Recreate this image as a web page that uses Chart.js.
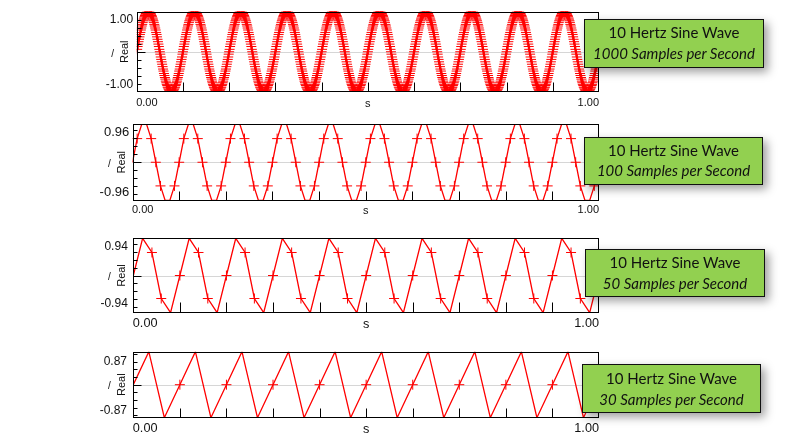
<!DOCTYPE html>
<html><head><meta charset="utf-8">
<script src="https://cdn.jsdelivr.net/npm/chart.js@4.4.1/dist/chart.umd.min.js"></script>
<style>
html,body{margin:0;padding:0;background:#fff;width:793px;height:448px;overflow:hidden;position:relative;}
canvas{position:absolute;left:0;top:0;}
.box{position:absolute;background:#92D050;border:1px solid #111;box-shadow:4px 4px 9px rgba(0,0,0,0.38);font-family:Lato,'Open Sans',sans-serif;font-size:15px;color:#111;text-align:center;line-height:20.5px;box-sizing:border-box;padding-top:2px;z-index:5;}
.box .l2{font-style:italic;}
</style></head><body>
<canvas id="c1" width="793" height="448"></canvas>
<canvas id="c2" width="793" height="448"></canvas>
<canvas id="c3" width="793" height="448"></canvas>
<canvas id="c4" width="793" height="448"></canvas>
<div class="box" style="left:584px;top:19px;width:180px;height:49px;"><div id="b1a"></div><div class="l2" id="b1b"></div></div>
<div class="box" style="left:584px;top:137px;width:179px;height:48px;padding-top:1.5px;"><div id="b2a"></div><div class="l2" id="b2b"></div></div>
<div class="box" style="left:585px;top:249px;width:180px;height:48px;"><div id="b3a"></div><div class="l2" id="b3b"></div></div>
<div class="box" style="left:582px;top:364px;width:179px;height:49px;padding-top:3px;"><div id="b4a"></div><div class="l2" id="b4b"></div></div>
<script>
// ---- data ----
const sampleRates = [1000, 100, 50, 30];
const boxTitles = ['10 Hertz Sine Wave', '10 Hertz Sine Wave', '10 Hertz Sine Wave', '10 Hertz Sine Wave'];
const boxSubtitles = ['1000 Samples per Second', '100 Samples per Second', '50 Samples per Second', '30 Samples per Second'];

const real1000 = [
0,.06,.13,.19,.25,.31,.37,.43,.48,.54,.59,.64,.68,.73,.77,.81,.84,.88,.9,.93,.95,.97,.98,.99,1,1,1,.99,.98,.97,.95,.93,.9,.88,.84,.81,.77,.73,.68,.64,.59,.54,.48,.43,.37,.31,.25,.19,.13,.06,0,-.06,-.13,-.19,-.25,-.31,-.37,-.43,-.48,-.54,-.59,-.64,-.68,-.73,-.77,-.81,-.84,-.88,-.9,-.93,-.95,-.97,-.98,-.99,-1,-1,-1,-.99,-.98,-.97,-.95,-.93,-.9,-.88,-.84,-.81,-.77,-.73,-.68,-.64,-.59,-.54,-.48,-.43,-.37,-.31,-.25,-.19,-.13,-.06,
0,.06,.13,.19,.25,.31,.37,.43,.48,.54,.59,.64,.68,.73,.77,.81,.84,.88,.9,.93,.95,.97,.98,.99,1,1,1,.99,.98,.97,.95,.93,.9,.88,.84,.81,.77,.73,.68,.64,.59,.54,.48,.43,.37,.31,.25,.19,.13,.06,0,-.06,-.13,-.19,-.25,-.31,-.37,-.43,-.48,-.54,-.59,-.64,-.68,-.73,-.77,-.81,-.84,-.88,-.9,-.93,-.95,-.97,-.98,-.99,-1,-1,-1,-.99,-.98,-.97,-.95,-.93,-.9,-.88,-.84,-.81,-.77,-.73,-.68,-.64,-.59,-.54,-.48,-.43,-.37,-.31,-.25,-.19,-.13,-.06,
0,.06,.13,.19,.25,.31,.37,.43,.48,.54,.59,.64,.68,.73,.77,.81,.84,.88,.9,.93,.95,.97,.98,.99,1,1,1,.99,.98,.97,.95,.93,.9,.88,.84,.81,.77,.73,.68,.64,.59,.54,.48,.43,.37,.31,.25,.19,.13,.06,0,-.06,-.13,-.19,-.25,-.31,-.37,-.43,-.48,-.54,-.59,-.64,-.68,-.73,-.77,-.81,-.84,-.88,-.9,-.93,-.95,-.97,-.98,-.99,-1,-1,-1,-.99,-.98,-.97,-.95,-.93,-.9,-.88,-.84,-.81,-.77,-.73,-.68,-.64,-.59,-.54,-.48,-.43,-.37,-.31,-.25,-.19,-.13,-.06,
0,.06,.13,.19,.25,.31,.37,.43,.48,.54,.59,.64,.68,.73,.77,.81,.84,.88,.9,.93,.95,.97,.98,.99,1,1,1,.99,.98,.97,.95,.93,.9,.88,.84,.81,.77,.73,.68,.64,.59,.54,.48,.43,.37,.31,.25,.19,.13,.06,0,-.06,-.13,-.19,-.25,-.31,-.37,-.43,-.48,-.54,-.59,-.64,-.68,-.73,-.77,-.81,-.84,-.88,-.9,-.93,-.95,-.97,-.98,-.99,-1,-1,-1,-.99,-.98,-.97,-.95,-.93,-.9,-.88,-.84,-.81,-.77,-.73,-.68,-.64,-.59,-.54,-.48,-.43,-.37,-.31,-.25,-.19,-.13,-.06,
0,.06,.13,.19,.25,.31,.37,.43,.48,.54,.59,.64,.68,.73,.77,.81,.84,.88,.9,.93,.95,.97,.98,.99,1,1,1,.99,.98,.97,.95,.93,.9,.88,.84,.81,.77,.73,.68,.64,.59,.54,.48,.43,.37,.31,.25,.19,.13,.06,0,-.06,-.13,-.19,-.25,-.31,-.37,-.43,-.48,-.54,-.59,-.64,-.68,-.73,-.77,-.81,-.84,-.88,-.9,-.93,-.95,-.97,-.98,-.99,-1,-1,-1,-.99,-.98,-.97,-.95,-.93,-.9,-.88,-.84,-.81,-.77,-.73,-.68,-.64,-.59,-.54,-.48,-.43,-.37,-.31,-.25,-.19,-.13,-.06,
0,.06,.13,.19,.25,.31,.37,.43,.48,.54,.59,.64,.68,.73,.77,.81,.84,.88,.9,.93,.95,.97,.98,.99,1,1,1,.99,.98,.97,.95,.93,.9,.88,.84,.81,.77,.73,.68,.64,.59,.54,.48,.43,.37,.31,.25,.19,.13,.06,0,-.06,-.13,-.19,-.25,-.31,-.37,-.43,-.48,-.54,-.59,-.64,-.68,-.73,-.77,-.81,-.84,-.88,-.9,-.93,-.95,-.97,-.98,-.99,-1,-1,-1,-.99,-.98,-.97,-.95,-.93,-.9,-.88,-.84,-.81,-.77,-.73,-.68,-.64,-.59,-.54,-.48,-.43,-.37,-.31,-.25,-.19,-.13,-.06,
0,.06,.13,.19,.25,.31,.37,.43,.48,.54,.59,.64,.68,.73,.77,.81,.84,.88,.9,.93,.95,.97,.98,.99,1,1,1,.99,.98,.97,.95,.93,.9,.88,.84,.81,.77,.73,.68,.64,.59,.54,.48,.43,.37,.31,.25,.19,.13,.06,0,-.06,-.13,-.19,-.25,-.31,-.37,-.43,-.48,-.54,-.59,-.64,-.68,-.73,-.77,-.81,-.84,-.88,-.9,-.93,-.95,-.97,-.98,-.99,-1,-1,-1,-.99,-.98,-.97,-.95,-.93,-.9,-.88,-.84,-.81,-.77,-.73,-.68,-.64,-.59,-.54,-.48,-.43,-.37,-.31,-.25,-.19,-.13,-.06,
0,.06,.13,.19,.25,.31,.37,.43,.48,.54,.59,.64,.68,.73,.77,.81,.84,.88,.9,.93,.95,.97,.98,.99,1,1,1,.99,.98,.97,.95,.93,.9,.88,.84,.81,.77,.73,.68,.64,.59,.54,.48,.43,.37,.31,.25,.19,.13,.06,0,-.06,-.13,-.19,-.25,-.31,-.37,-.43,-.48,-.54,-.59,-.64,-.68,-.73,-.77,-.81,-.84,-.88,-.9,-.93,-.95,-.97,-.98,-.99,-1,-1,-1,-.99,-.98,-.97,-.95,-.93,-.9,-.88,-.84,-.81,-.77,-.73,-.68,-.64,-.59,-.54,-.48,-.43,-.37,-.31,-.25,-.19,-.13,-.06,
0,.06,.13,.19,.25,.31,.37,.43,.48,.54,.59,.64,.68,.73,.77,.81,.84,.88,.9,.93,.95,.97,.98,.99,1,1,1,.99,.98,.97,.95,.93,.9,.88,.84,.81,.77,.73,.68,.64,.59,.54,.48,.43,.37,.31,.25,.19,.13,.06,0,-.06,-.13,-.19,-.25,-.31,-.37,-.43,-.48,-.54,-.59,-.64,-.68,-.73,-.77,-.81,-.84,-.88,-.9,-.93,-.95,-.97,-.98,-.99,-1,-1,-1,-.99,-.98,-.97,-.95,-.93,-.9,-.88,-.84,-.81,-.77,-.73,-.68,-.64,-.59,-.54,-.48,-.43,-.37,-.31,-.25,-.19,-.13,-.06,
0,.06,.13,.19,.25,.31,.37,.43,.48,.54,.59,.64,.68,.73,.77,.81,.84,.88,.9,.93,.95,.97,.98,.99,1,1,1,.99,.98,.97,.95,.93,.9,.88,.84,.81,.77,.73,.68,.64,.59,.54,.48,.43,.37,.31,.25,.19,.13,.06,0,-.06,-.13,-.19,-.25,-.31,-.37,-.43,-.48,-.54,-.59,-.64,-.68,-.73,-.77,-.81,-.84,-.88,-.9,-.93,-.95,-.97,-.98,-.99,-1,-1,-1,-.99,-.98,-.97,-.95,-.93,-.9,-.88,-.84,-.81,-.77,-.73,-.68,-.64,-.59,-.54,-.48,-.43,-.37,-.31,-.25,-.19,-.13,-.06,
0];

const real100 = [
0,.588,.951,.951,.588,0,-.588,-.951,-.951,-.588,
0,.588,.951,.951,.588,0,-.588,-.951,-.951,-.588,
0,.588,.951,.951,.588,0,-.588,-.951,-.951,-.588,
0,.588,.951,.951,.588,0,-.588,-.951,-.951,-.588,
0,.588,.951,.951,.588,0,-.588,-.951,-.951,-.588,
0,.588,.951,.951,.588,0,-.588,-.951,-.951,-.588,
0,.588,.951,.951,.588,0,-.588,-.951,-.951,-.588,
0,.588,.951,.951,.588,0,-.588,-.951,-.951,-.588,
0,.588,.951,.951,.588,0,-.588,-.951,-.951,-.588,
0,.588,.951,.951,.588,0,-.588,-.951,-.951,-.588,
0];

const real50 = [
0,.951,.588,-.588,-.951, 0,.951,.588,-.588,-.951,
0,.951,.588,-.588,-.951, 0,.951,.588,-.588,-.951,
0,.951,.588,-.588,-.951, 0,.951,.588,-.588,-.951,
0,.951,.588,-.588,-.951, 0,.951,.588,-.588,-.951,
0,.951,.588,-.588,-.951, 0,.951,.588,-.588,-.951,
0];

const real30 = [
0,.866,-.866, 0,.866,-.866, 0,.866,-.866, 0,.866,-.866, 0,.866,-.866,
0,.866,-.866, 0,.866,-.866, 0,.866,-.866, 0,.866,-.866, 0,.866,-.866,
0];

const yEndLabels1000 = ['1.00', '-1.00'];
const yEndLabels100 = ['0.96', '-0.96'];
const yEndLabels50 = ['0.94', '-0.94'];
const yEndLabels30 = ['0.87', '-0.87'];
const xEndLabels = ['0.00', '1.00'];
const xTitle = 's';
const yTitle = 'Real';
const yUnit = '/';
const xTickValues = [0.1, 0.2, 0.3, 0.4, 0.5, 0.6, 0.7, 0.8, 0.9];
const yTickValues = [-0.8, -0.6, -0.4, -0.2, 0, 0.2, 0.4, 0.6, 0.8];

// ---- layout ----
const panels = [
  {id:'c1', values:real1000, rate:sampleRates[0], yLabels:yEndLabels1000, area:{l:136.7,t:11.5,r:599,b:92}, radius:5, yFont:12, xFont:11, yGap:3.5, yTopOff:8.5, yBotOff:7, xBase:14, xTickLen:9, realX:125, slashX:112.7},
  {id:'c2', values:real100, rate:sampleRates[1], yLabels:yEndLabels100, area:{l:132.5,t:124,r:599,b:200.5}, radius:5, yFont:13, xFont:11, yGap:3.3, yTopOff:8, yBotOff:7.7, xBase:12, xTickLen:9, realX:121.5, slashX:109.3},
  {id:'c3', values:real50, rate:sampleRates[2], yLabels:yEndLabels50, area:{l:133.3,t:238.3,r:599,b:312.7}, radius:5, yFont:12, xFont:12.7, yGap:5.5, yTopOff:8.4, yBotOff:8.7, xBase:14, xTickLen:10, realX:121.7, slashX:109.3},
  {id:'c4', values:real30, rate:sampleRates[3], yLabels:yEndLabels30, area:{l:133.3,t:351.7,r:599,b:417.7}, radius:5, yFont:12, xFont:12.7, yGap:6.3, yTopOff:9.5, yBotOff:6.7, xBase:14.5, xTickLen:9, realX:121.7, slashX:109.3}
];

const FONT = '"Liberation Sans", Arial, sans-serif';

function makeAxes(p) {
  return {
    id: 'frameAxes',
    beforeDatasetsDraw(chart) {
      const {ctx, chartArea:a, scales:{y}} = chart;
      const yz = Math.round(y.getPixelForValue(0)) + 0.5;
      ctx.save();
      ctx.strokeStyle = '#d6d6d6'; ctx.lineWidth = 1;
      ctx.beginPath(); ctx.moveTo(a.left, yz); ctx.lineTo(a.right, yz); ctx.stroke();
      ctx.restore();
    },
    afterDatasetsDraw(chart) {
      const {ctx, chartArea:a, scales:{x, y}} = chart;
      ctx.save();
      ctx.strokeStyle = '#000'; ctx.lineWidth = 1;
      const L = Math.round(a.left) + 0.5, R = Math.round(a.right) - 0.5;
      const T = Math.round(a.top) + 0.5, B = Math.round(a.bottom) - 0.5;
      ctx.strokeRect(L, T, R - L, B - T);
      ctx.beginPath();
      for (const v of yTickValues) {
        const py = Math.round(y.getPixelForValue(v)) + 0.5;
        ctx.moveTo(L, py); ctx.lineTo(L + (v === 0 ? 8 : 4), py);
      }
      for (const v of xTickValues) {
        const px = Math.round(x.getPixelForValue(v)) + 0.5;
        ctx.moveTo(px, B); ctx.lineTo(px, B - p.xTickLen);
      }
      ctx.stroke();
      ctx.fillStyle = '#111';
      ctx.font = p.yFont + 'px ' + FONT;
      ctx.textAlign = 'right'; ctx.textBaseline = 'middle';
      ctx.fillText(p.yLabels[0], a.left - p.yGap, y.getPixelForValue(y.max) + p.yTopOff);
      ctx.fillText(p.yLabels[1], a.left - p.yGap, y.getPixelForValue(y.min) - p.yBotOff);
      ctx.font = p.xFont + 'px ' + FONT;
      ctx.textBaseline = 'alphabetic';
      const by = a.bottom + p.xBase;
      ctx.textAlign = 'left'; ctx.fillText(xEndLabels[0], x.getPixelForValue(0) - 0.5, by);
      ctx.textAlign = 'right'; ctx.fillText(xEndLabels[1], x.getPixelForValue(1), by);
      ctx.textAlign = 'center'; ctx.fillText(xTitle, x.getPixelForValue(0.5), by + 1);
      const yc = (a.top + a.bottom) / 2;
      ctx.save();
      ctx.translate(p.realX, yc); ctx.rotate(-Math.PI / 2);
      ctx.font = '11px ' + FONT; ctx.textAlign = 'center'; ctx.textBaseline = 'middle';
      ctx.fillText(yTitle, 0, 0);
      ctx.restore();
      ctx.font = '10px ' + FONT; ctx.textAlign = 'center'; ctx.textBaseline = 'middle';
      ctx.fillText(yUnit, p.slashX, yc + 2);
      ctx.restore();
    }
  };
}

panels.forEach((p, k) => {
  const n = p.values.length;
  const ymax = Math.max(...p.values.map(Math.abs));
  const a = p.area;
  new Chart(document.getElementById(p.id), {
    type: 'line',
    data: {
      labels: p.values.map((_, i) => i / p.rate),
      datasets: [{
        data: p.values,
        borderColor: '#ff0000',
        borderWidth: 1.3,
        tension: 0,
        pointStyle: 'cross',
        pointRadius: (ctx) => {
          const i = ctx.dataIndex;
          return (i === 0 || i === n - 1 || Math.abs(p.values[i]) >= ymax - 1e-9) ? 0 : p.radius;
        },
        pointBorderColor: '#ff0000',
        pointBackgroundColor: '#ff0000',
        pointBorderWidth: 1,
        clip: 0
      }]
    },
    options: {
      responsive: false, animation: false, devicePixelRatio: 1, events: [],
      layout: {padding: {left: a.l, top: a.t, right: 793 - a.r, bottom: 448 - a.b}},
      scales: {
        x: {type: 'linear', min: 0, max: 1, display: false},
        y: {type: 'linear', min: -ymax, max: ymax, display: false}
      },
      plugins: {legend: {display: false}, tooltip: {enabled: false}}
    },
    plugins: [makeAxes(p)]
  });
  document.getElementById('b' + (k + 1) + 'a').textContent = boxTitles[k];
  document.getElementById('b' + (k + 1) + 'b').textContent = boxSubtitles[k];
});
</script>
</body></html>
